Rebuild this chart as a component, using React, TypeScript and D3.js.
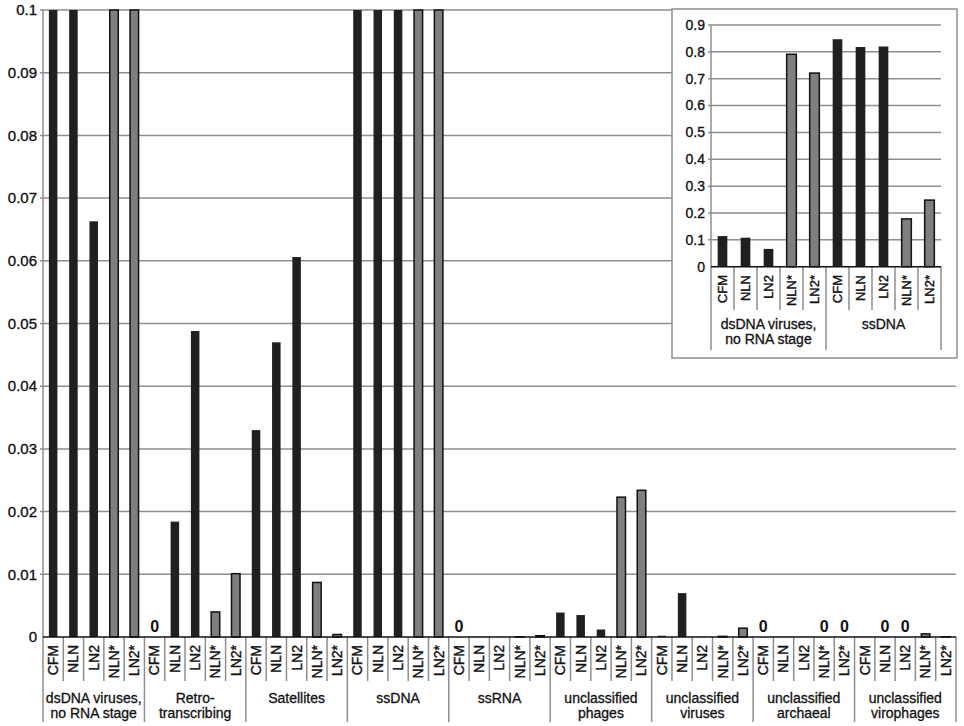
import React, { useEffect, useRef } from 'react';
import * as d3 from 'd3';

const samples = ['CFM', 'NLN', 'LN2', 'NLN*', 'LN2*'];

const groupLabels = [
  ['dsDNA viruses,', 'no RNA stage'],
  ['Retro-', 'transcribing'],
  ['Satellites'],
  ['ssDNA'],
  ['ssRNA'],
  ['unclassified', 'phages'],
  ['unclassified', 'viruses'],
  ['unclassified', 'archaeal'],
  ['unclassified', 'virophages'],
];

// one row per group, in sample order (exact 0 gets a "0" label)
const dsDNA = [0.114, 0.108, 0.0663, 0.791, 0.721];
const retro = [0, 0.0184, 0.0488, 0.004, 0.0101];
const satellites = [0.033, 0.047, 0.0606, 0.0087, 0.0004];
const ssDNA = [0.847, 0.818, 0.82, 0.178, 0.248];
const ssRNA = [0, 0.00003, 0.00003, 0.00003, 0.0002];
const uPhages = [0.0039, 0.0035, 0.0012, 0.0223, 0.0234];
const uViruses = [0.0002, 0.007, 0.00003, 0.0001, 0.0014];
const uArchaeal = [0, 0.00003, 0.00003, 0, 0];
const uVirophages = [0.00003, 0, 0, 0.0005, 0.00003];

const mainValues = [dsDNA, retro, satellites, ssDNA, ssRNA, uPhages, uViruses, uArchaeal, uVirophages];
const mainTicks = [0, 0.01, 0.02, 0.03, 0.04, 0.05, 0.06, 0.07, 0.08, 0.09, 0.1];

// inset: the two groups that run off the main scale
const insetGroups = [0, 3];
const insetTicks = [0, 0.1, 0.2, 0.3, 0.4, 0.5, 0.6, 0.7, 0.8, 0.9];

const BLACK = '#231f20';
const GREY = '#7d8080';
const GRID = '#8e8e8e';
const INK = '#111';
const FONT = '"Liberation Sans", Arial, sans-serif';

interface Slot {
  key: string;
  group: number;
  sample: string;
  value: number;
}

function drawPanel(
  root: d3.Selection<SVGGElement, unknown, null, undefined>,
  groups: number[],
  opts: {
    x0: number; x1: number; yTop: number; yZero: number; max: number; ticks: number[];
    tickFmt: (v: number) => string; tickSize: number; labelSize: number;
    sampleTop: number; shortEnd: number; longEnd: number; groupY: number; zeros: boolean;
  }
) {
  const slots: Slot[] = groups.flatMap(g =>
    samples.map((s, i) => ({ key: `${g}-${i}`, group: g, sample: s, value: mainValues[g][i] }))
  );

  const x = d3.scaleBand<string>().domain(slots.map(d => d.key)).range([opts.x0, opts.x1]).padding(0);
  const y = d3.scaleLinear().domain([0, opts.max]).range([opts.yZero, opts.yTop]);
  const bw = x.bandwidth() * 0.42;

  // gridlines
  root.append('g')
    .selectAll('line')
    .data(opts.ticks.filter(t => t > 0))
    .enter()
    .append('line')
    .attr('x1', opts.x0 - 3)
    .attr('x2', opts.x1)
    .attr('y1', d => y(d))
    .attr('y2', d => y(d))
    .attr('stroke', GRID)
    .attr('stroke-width', 1.5);

  // y axis line
  root.append('line')
    .attr('x1', opts.x0).attr('x2', opts.x0)
    .attr('y1', opts.yTop).attr('y2', opts.yZero)
    .attr('stroke', GRID).attr('stroke-width', 1.5);

  // tick labels
  root.append('g')
    .selectAll('text')
    .data(opts.ticks)
    .enter()
    .append('text')
    .attr('x', opts.x0 - 6)
    .attr('y', d => y(d))
    .attr('dy', '0.35em')
    .attr('text-anchor', 'end')
    .attr('font-family', FONT)
    .attr('font-size', opts.tickSize)
    .attr('fill', INK)
    .attr('stroke', INK)
    .attr('stroke-width', 0.35)
    .text(d => opts.tickFmt(d));

  // bars (clipped at top of scale)
  root.append('g')
    .selectAll('rect')
    .data(slots.filter(d => d.value > 0))
    .enter()
    .append('rect')
    .attr('x', d => x(d.key)! + (x.bandwidth() - bw) / 2)
    .attr('width', bw)
    .attr('y', d => y(Math.min(d.value, opts.max)))
    .attr('height', d => opts.yZero - y(Math.min(d.value, opts.max)))
    .attr('fill', d => (d.sample.endsWith('*') ? GREY : BLACK))
    .attr('stroke', d => (d.sample.endsWith('*') ? INK : 'none'))
    .attr('stroke-width', 1.5);

  if (opts.zeros) {
    root.append('g')
      .selectAll('text')
      .data(slots.filter(d => d.value === 0))
      .enter()
      .append('text')
      .attr('x', d => x(d.key)! + x.bandwidth() / 2)
      .attr('y', opts.yZero - 5)
      .attr('text-anchor', 'middle')
      .attr('font-family', FONT)
      .attr('font-size', 16)
      .attr('font-weight', 'bold')
      .attr('fill', INK)
      .text('0');
  }

  // separators under the axis
  const edges = slots.map((d, i) => ({ xPos: x(d.key)!, long: i % samples.length === 0 }));
  edges.push({ xPos: opts.x1, long: true });
  root.append('g')
    .selectAll('line')
    .data(edges)
    .enter()
    .append('line')
    .attr('x1', d => d.xPos).attr('x2', d => d.xPos)
    .attr('y1', opts.yZero)
    .attr('y2', d => (d.long ? opts.longEnd : opts.shortEnd))
    .attr('stroke', GRID)
    .attr('stroke-width', 1.5);

  // zero axis
  root.append('line')
    .attr('x1', opts.x0).attr('x2', opts.x1)
    .attr('y1', opts.yZero).attr('y2', opts.yZero)
    .attr('stroke', INK).attr('stroke-width', 1.5);

  // sample labels, rotated
  root.append('g')
    .selectAll('text')
    .data(slots)
    .enter()
    .append('text')
    .attr('transform', d => `translate(${x(d.key)! + x.bandwidth() / 2}, ${opts.sampleTop}) rotate(-90)`)
    .attr('dy', '0.35em')
    .attr('text-anchor', 'end')
    .attr('font-family', FONT)
    .attr('font-size', opts.labelSize)
    .attr('fill', INK)
    .attr('stroke', INK)
    .attr('stroke-width', 0.4)
    .text(d => d.sample);

  // group labels
  groups.forEach(g => {
    const first = x(`${g}-0`)!;
    const cx = first + (x.bandwidth() * samples.length) / 2;
    const t = root.append('text')
      .attr('x', cx)
      .attr('y', opts.groupY)
      .attr('text-anchor', 'middle')
      .attr('font-family', FONT)
      .attr('font-size', 14)
      .attr('fill', INK)
      .attr('stroke', INK)
      .attr('stroke-width', 0.3);
    groupLabels[g].forEach((line, li) => {
      t.append('tspan').attr('x', cx).attr('dy', li === 0 ? '0.35em' : 15).text(line);
    });
  });
}

export default function App() {
  const svgRef = useRef<SVGSVGElement>(null);

  useEffect(() => {
    if (!svgRef.current) return;
    d3.select(svgRef.current).selectAll('*').remove();
    const svg = d3.select(svgRef.current);

    const main = svg.append('g');
    drawPanel(main, d3.range(mainValues.length), {
      x0: 43, x1: 956, yTop: 10, yZero: 637, max: 0.1, ticks: mainTicks,
      tickFmt: v => (v === 0 ? '0' : d3.format('.2~f')(v)), tickSize: 15, labelSize: 14,
      sampleTop: 645, shortEnd: 681, longEnd: 722, groupY: 698, zeros: true,
    });

    // inset box
    svg.append('rect')
      .attr('x', 672).attr('y', 9).attr('width', 285).attr('height', 349)
      .attr('fill', '#fff').attr('stroke', GRID).attr('stroke-width', 1.5);

    const inset = svg.append('g');
    drawPanel(inset, insetGroups, {
      x0: 711, x1: 941, yTop: 25, yZero: 266.7, max: 0.9, ticks: insetTicks,
      tickFmt: v => (v === 0 ? '0' : d3.format('.1f')(v)), tickSize: 14, labelSize: 13,
      sampleTop: 275, shortEnd: 310, longEnd: 350, groupY: 324, zeros: false,
    });
  }, []);

  return (
    <svg
      ref={svgRef}
      width={964}
      height={726}
      style={{ position: 'absolute', left: 0, top: 0, background: '#fff' }}
    />
  );
}
